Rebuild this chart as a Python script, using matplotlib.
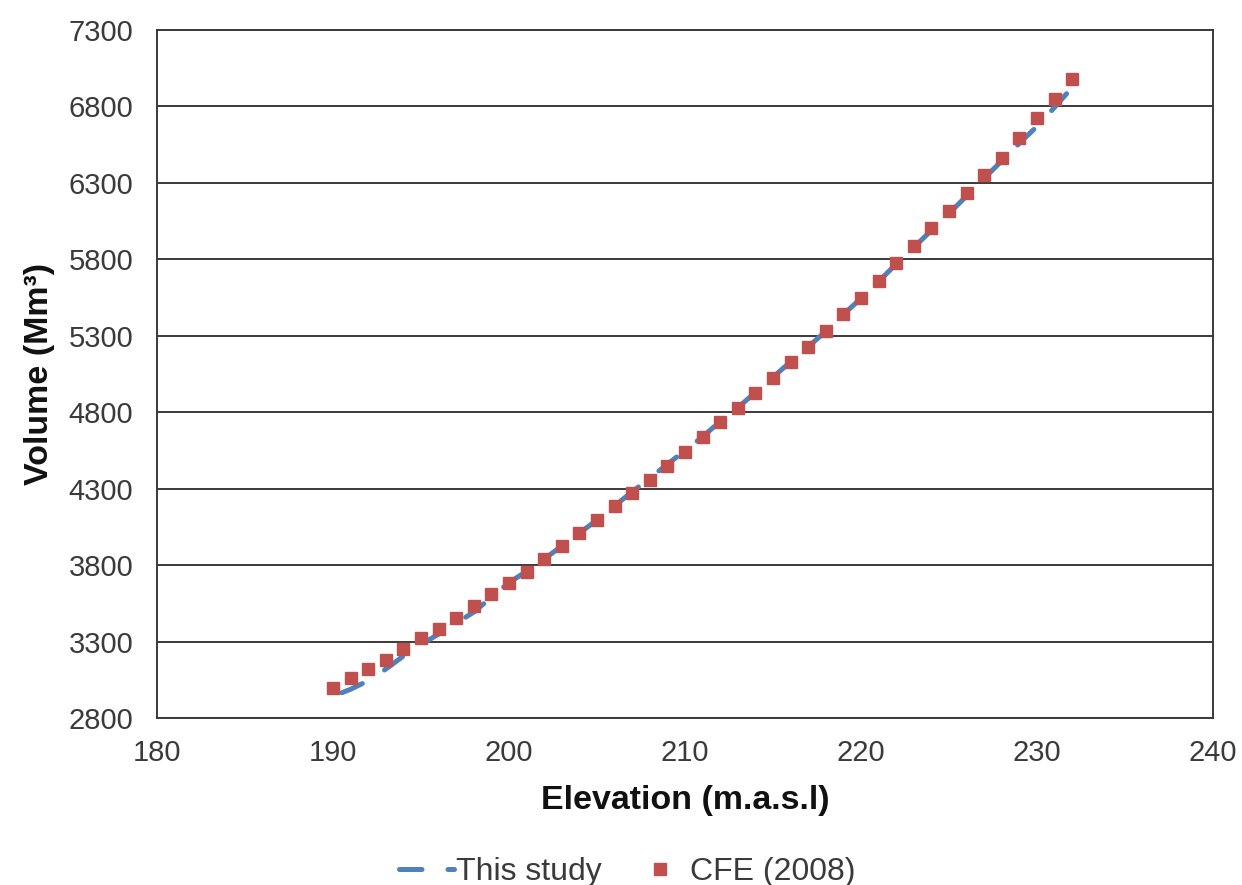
import numpy as np
import matplotlib
matplotlib.use("Agg")
import matplotlib.pyplot as plt
from matplotlib.lines import Line2D

plt.rcParams["font.family"] = ["Liberation Sans", "DejaVu Sans"]

# CFE (2008) survey points, one per metre of elevation
cfe_elev = list(range(190, 233))
cfe_vol = [
    2996, 3061, 3120, 3179, 3251, 3323, 3382, 3454, 3532, 3611,
    3682, 3754, 3839, 3924, 4009, 4094, 4186, 4271, 4356, 4448,
    4540, 4637, 4735, 4826, 4924, 5022, 5127, 5225, 5329, 5440,
    5545, 5656, 5774, 5885, 6002, 6114, 6231, 6349, 6466, 6591,
    6722, 6846, 6977,
]

# this study curve
study_elev = [190.5] + list(range(191, 233)) + [232.2]
study_vol = [
    2965, 2988, 3044, 3120, 3205, 3280, 3349, 3420, 3493, 3590,
    3685, 3760, 3840, 3925, 4010, 4095, 4188, 4280, 4370, 4460,
    4550, 4640, 4740, 4830, 4930, 5030, 5130, 5228, 5330, 5440,
    5545, 5655, 5770, 5878, 5990, 6100, 6215, 6330, 6445, 6560,
    6670, 6795, 6925, 6940,
]

x_ticks = np.arange(180, 241, 10)
y_ticks = np.arange(2800, 7301, 500)

blue = "#4F81BD"
red = "#C0504D"
grid_col = "#3a3a3a"
text_col = "#3a3a3a"

fig = plt.figure(figsize=(12.42, 8.85), dpi=100)
ax = fig.add_axes([0.1264, 0.1887, 0.8503, 0.7774])

line, = ax.plot(study_elev, study_vol, color=blue, lw=3.6,
                solid_capstyle="round", dash_capstyle="round", zorder=3)
line.set_dashes([4.5, 5.2])
ax.plot(cfe_elev, cfe_vol, ls="none", marker="s", ms=8, color=red,
        mec=red, zorder=4)

ax.set_xlim(180, 240)
ax.set_ylim(2800, 7300)
ax.set_xticks(x_ticks)
ax.set_yticks(y_ticks)
ax.grid(axis="y", color=grid_col, lw=1.4)
ax.set_axisbelow(True)
for s in ax.spines.values():
    s.set_color(grid_col)
    s.set_linewidth(1.4)
ax.tick_params(length=0, labelsize=21, labelcolor=text_col, pad=17)
ax.tick_params(axis="x", pad=15)

ax.set_xlabel("Elevation (m.a.s.l)", fontsize=24.5, fontweight="bold",
              color="#111111", labelpad=13)
ax.set_ylabel("Volume (Mm³)", fontsize=24.5, fontweight="bold",
              color="#111111", labelpad=10)

h1 = Line2D([], [], color=blue, lw=3.6, dash_capstyle="round")
h1.set_dashes([4.5, 5.2])
h2 = Line2D([], [], ls="none", marker="s", ms=8, color=red)
fig.legend([h1, h2], ["This study", "CFE (2008)"], loc="lower center",
           bbox_to_anchor=(0.505, -0.035), ncol=2, frameon=False,
           fontsize=23, handlelength=1.75, handletextpad=0.06,
           columnspacing=0.95, labelcolor=text_col)

fig.savefig("out.png", dpi=100)
